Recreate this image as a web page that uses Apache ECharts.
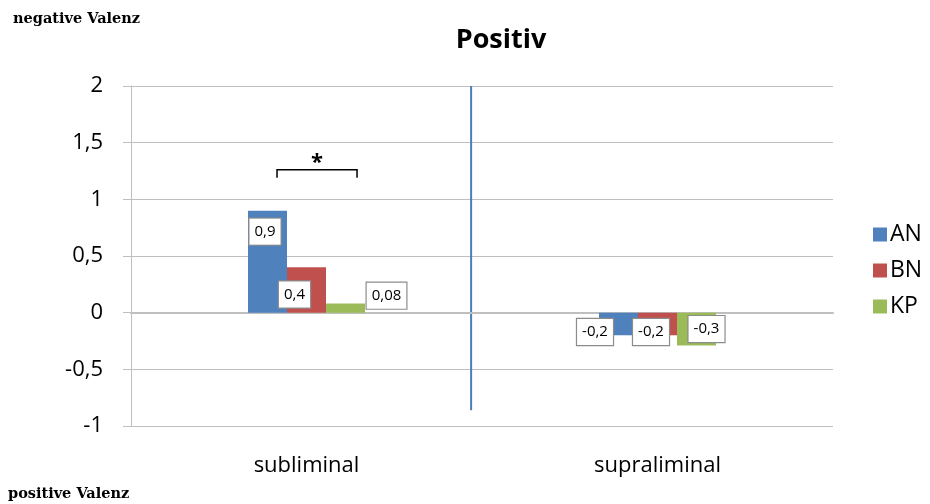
<!DOCTYPE html>
<html><head><meta charset="utf-8">
<script src="https://cdn.jsdelivr.net/npm/echarts@6/dist/echarts.min.js"></script>
<style>html,body{margin:0;padding:0;background:#fff}#c{width:930px;height:504px}</style>
</head><body><div id="c"></div>
<script>
var categories = ['subliminal', 'supraliminal'];
var seriesNames = ['AN', 'BN', 'KP'];
var anValues = [0.9, -0.2];
var bnValues = [0.4, -0.2];
var kpValues = [0.08, -0.29];
var anLabels = ['0,9', '-0,2'];
var bnLabels = ['0,4', '-0,2'];
var kpLabels = ['0,08', '-0,3'];
var titleText = 'Positiv';
var topNote = 'negative Valenz';
var bottomNote = 'positive Valenz';
var sigMark = '*';

var colors = ['#4f81bd', '#c0504d', '#9bbb59'];
var FONT = '"Open Sans", Lato, sans-serif';
var SERIF = 'bold 14.5px "DejaVu Serif", "Liberation Serif", serif';

var labelOffsets = [
  [[-2.5, -30], [-23.5, 8]],
  [[-12, 4.5], [-6.5, 8]],
  [[41, -12.5], [10, 0]]
];
var valueSets = [anValues, bnValues, kpValues];
var labelSets = [anLabels, bnLabels, kpLabels];

function makeSeries(i) {
  return {
    name: seriesNames[i],
    type: 'bar',
    barWidth: 39,
    barGap: '0%',
    itemStyle: { color: colors[i] },
    data: valueSets[i].map(function (v, j) {
      return {
        value: v,
        label: {
          show: true,
          position: 'inside',
          offset: labelOffsets[i][j],
          formatter: labelSets[i][j],
          color: '#000',
          fontFamily: FONT,
          fontSize: 15,
          lineHeight: 17,
          backgroundColor: '#fff',
          borderColor: '#8c8c8c',
          borderWidth: 1.2,
          padding: [5, 5, 4, 5]
        }
      };
    })
  };
}

var chart = echarts.init(document.getElementById('c'), null, { renderer: 'canvas' });
var option = {
  animation: false,
  backgroundColor: '#fff',
  title: {
    text: titleText, left: 496, top: 22, textAlign: 'center',
    textStyle: { fontFamily: FONT, fontSize: 27, fontWeight: 'bold', color: '#000' }
  },
  legend: {
    orient: 'vertical', left: 868, top: 218, itemWidth: 14, itemHeight: 14, itemGap: 13,
    icon: 'rect',
    textStyle: { fontFamily: FONT, fontSize: 23, color: '#000', padding: [0, 0, 0, -2] },
    data: seriesNames
  },
  grid: { left: 131, right: 97, top: 86, bottom: 78, containLabel: false },
  xAxis: {
    type: 'category', data: categories,
    axisLine: { lineStyle: { color: '#bfbfbf', width: 2 } },
    axisTick: { show: false },
    axisLabel: { fontFamily: FONT, fontSize: 22, color: '#000', margin: 29 }
  },
  yAxis: {
    type: 'value', min: -1, max: 2, interval: 0.5,
    axisLine: { show: true, lineStyle: { color: '#bfbfbf', width: 1 } },
    axisTick: { show: true, inside: false, length: 8, lineStyle: { color: '#bfbfbf' } },
    splitLine: { lineStyle: { color: '#bfbfbf', width: 1 } },
    axisLabel: {
      fontFamily: FONT, fontSize: 22, color: '#000', margin: 28,
      formatter: function (v) { return String(v).replace('.', ','); }
    }
  },
  series: [makeSeries(0), makeSeries(1), makeSeries(2)]
};
chart.setOption(option);

// annotations positioned via the chart's own coordinate conversion
var p0 = chart.convertToPixel({ xAxisIndex: 0 }, categories[0]);
var p1 = chart.convertToPixel({ xAxisIndex: 0 }, categories[1]);
var catW = p1 - p0;
var yTop = chart.convertToPixel({ yAxisIndex: 0 }, 2);
var ySepEnd = chart.convertToPixel({ yAxisIndex: 0 }, -0.86);
var sepX = p0 + 0.469 * catW;
var yBr = chart.convertToPixel({ yAxisIndex: 0 }, 1.26);
var brL = p0 - 0.084 * catW, brR = p0 + 0.144 * catW;

chart.setOption({
  graphic: [
    { type: 'line', shape: { x1: sepX, y1: yTop, x2: sepX, y2: ySepEnd },
      style: { stroke: '#4a7ebb', lineWidth: 2 } },
    { type: 'polyline', shape: { points: [[brL, yBr + 8], [brL, yBr], [brR, yBr], [brR, yBr + 8]] },
      style: { stroke: '#000', lineWidth: 1.5, fill: null } },
    { type: 'text', x: (brL + brR) / 2, y: yBr - 7,
      style: { text: sigMark, font: 'bold 22px ' + FONT, fill: '#000', align: 'center', verticalAlign: 'middle' } },
    { type: 'text', x: 13, y: 19,
      style: { text: topNote, font: SERIF, fill: '#000', align: 'left', verticalAlign: 'middle' } },
    { type: 'text', x: 8, y: 494,
      style: { text: bottomNote, font: SERIF, fill: '#000', align: 'left', verticalAlign: 'middle' } }
  ]
});
</script>
</body></html>
